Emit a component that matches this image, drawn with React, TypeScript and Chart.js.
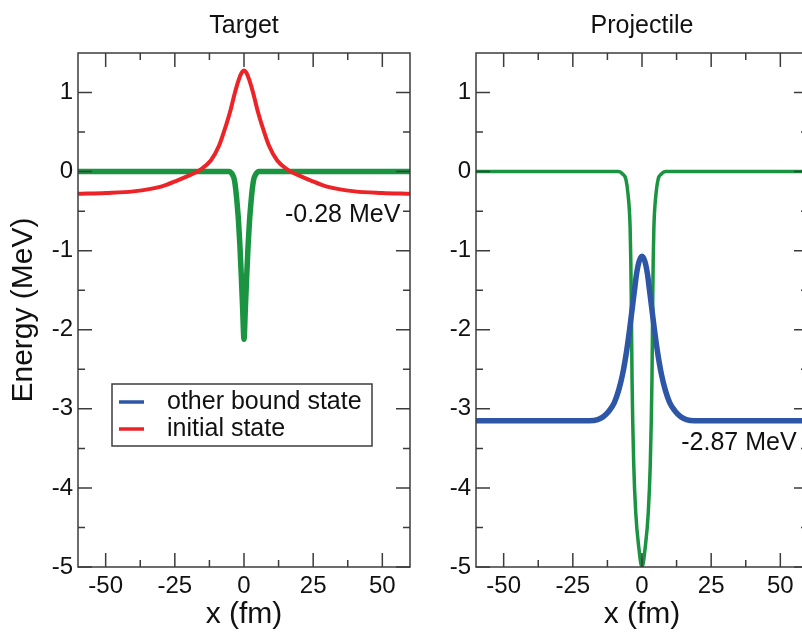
import React, { useEffect, useRef } from "react";
import { Chart, registerables } from "chart.js";

Chart.register(...registerables);

const FONT = '"Liberation Sans", Arial, Helvetica, sans-serif';
const TEXT = "#111111";
const FRAME = "#3c3c3c";
const GREEN = "#1a9440";
const RED = "#ec2327";
const BLUE = "#2d56a6";

// Axis ticks
const X_TICKS = [-50, -25, 0, 25, 50];
const X_MINOR = [-37.5, -12.5, 12.5, 37.5];
const Y_TICKS = [1, 0, -1, -2, -3, -4, -5];
const Y_MINOR = [0.5, -0.5, -1.5, -2.5, -3.5, -4.5];

// Target panel: potential (green)
const X_TGT_POT = [-60, -5.2, -4.5, -4, -3.5, -3, -2.5, -2, -1.5, -1, -0.5, 0, 0.5, 1, 1.5, 2, 2.5, 3, 3.5, 4, 4.5, 5.2, 60];
const Y_TGT_POT = [0, 0, -0.02, -0.05, -0.1, -0.22, -0.4, -0.62, -0.92, -1.3, -1.72, -2.12, -1.72, -1.3, -0.92, -0.62, -0.4, -0.22, -0.1, -0.05, -0.02, 0, 0];

// Target panel: initial state (red)
const X_INIT = [-60, -50, -40, -30, -24, -20, -16, -12, -9, -7, -5, -3.5, -2, -1, 0, 1, 2, 3.5, 5, 7, 9, 12, 16, 20, 24, 30, 40, 50, 60];
const Y_INIT = [-0.28, -0.27, -0.25, -0.19, -0.11, -0.05, 0.02, 0.14, 0.33, 0.53, 0.76, 0.97, 1.15, 1.24, 1.28, 1.24, 1.15, 0.97, 0.76, 0.53, 0.33, 0.14, 0.02, -0.05, -0.11, -0.19, -0.25, -0.27, -0.28];

// Projectile panel: potential (green)
const X_PRJ_POT = [-60, -8.5, -7, -5.8, -5.1, -4.3, -4.05, -3.9, -3.6, -3, -2.25, -1.2, 0, 1.2, 2.25, 3, 3.6, 3.9, 4.05, 4.3, 5.1, 5.8, 7, 8.5, 60];
const Y_PRJ_POT = [0, 0, -0.03, -0.1, -0.27, -0.7, -1.12, -1.54, -2.63, -3.69, -4.32, -4.74, -5, -4.74, -4.32, -3.69, -2.63, -1.54, -1.12, -0.7, -0.27, -0.1, -0.03, 0, 0];

// Projectile panel: other bound state (blue)
const X_BOUND = [-60, -19, -16, -14, -12, -10, -8.4, -7, -5.7, -4.5, -3.5, -2.55, -2, -1, 0, 1, 2, 2.55, 3.5, 4.5, 5.7, 7, 8.4, 10, 12, 14, 16, 19, 60];
const Y_BOUND = [-3.15, -3.15, -3.135, -3.1, -3.03, -2.92, -2.76, -2.56, -2.3, -2.0, -1.72, -1.455, -1.3, -1.13, -1.07, -1.13, -1.3, -1.455, -1.72, -2.0, -2.3, -2.56, -2.76, -2.92, -3.03, -3.1, -3.135, -3.15, -3.15];

// Legend and annotations
const LEGEND_LABELS = ["other bound state", "initial state"];
const LEGEND_COLORS = [BLUE, RED];
const TGT_NOTE = { x: 56.5, y: -0.55, text: "-0.28 MeV", align: "right" };
const PRJ_NOTE = { x: 14.2, y: -3.43, text: "-2.87 MeV", align: "left" };

const pts = (xs: number[], ys: number[]) => xs.map((x, i) => ({ x, y: ys[i] }));

const framePlugin = {
  id: "frame",
  afterDraw(chart: any, _args: any, opts: any) {
    const { ctx, chartArea: a, scales } = chart;
    const xs = scales.x;
    const ys = scales.y;
    const MAJ = 14;
    const MIN = 7;
    ctx.save();
    ctx.strokeStyle = FRAME;
    ctx.lineWidth = 1.5;
    ctx.beginPath();
    const xt = (v: number, len: number) => {
      const p = xs.getPixelForValue(v);
      ctx.moveTo(p, a.bottom);
      ctx.lineTo(p, a.bottom - len);
      ctx.moveTo(p, a.top);
      ctx.lineTo(p, a.top + len);
    };
    const yt = (v: number, len: number) => {
      const p = ys.getPixelForValue(v);
      ctx.moveTo(a.left, p);
      ctx.lineTo(a.left + len, p);
      ctx.moveTo(a.right, p);
      ctx.lineTo(a.right - len, p);
    };
    X_TICKS.forEach((v) => xt(v, MAJ));
    X_MINOR.forEach((v) => xt(v, MIN));
    Y_TICKS.forEach((v) => yt(v, MAJ));
    Y_MINOR.forEach((v) => yt(v, MIN));
    ctx.stroke();
    ctx.strokeRect(a.left, a.top, a.right - a.left, a.bottom - a.top);

    ctx.fillStyle = TEXT;
    ctx.font = `25px ${FONT}`;
    ctx.textBaseline = "middle";
    (opts.notes || []).forEach((n: any) => {
      ctx.textAlign = n.align;
      ctx.fillText(n.text, xs.getPixelForValue(n.x), ys.getPixelForValue(n.y));
    });

    if (opts.legend) {
      const bx = a.left + 34;
      const by = a.top + 331;
      const bw = 260;
      const bh = 62;
      ctx.fillStyle = "#ffffff";
      ctx.fillRect(bx, by, bw, bh);
      ctx.strokeStyle = FRAME;
      ctx.lineWidth = 1.5;
      ctx.strokeRect(bx, by, bw, bh);
      LEGEND_LABELS.forEach((lab, i) => {
        const cy = by + 18 + i * 27;
        ctx.strokeStyle = LEGEND_COLORS[i];
        ctx.lineWidth = 3.5;
        ctx.beginPath();
        ctx.moveTo(bx + 7, cy);
        ctx.lineTo(bx + 32, cy);
        ctx.stroke();
        ctx.fillStyle = TEXT;
        ctx.textAlign = "left";
        ctx.fillText(lab, bx + 55, cy);
      });
    }
    ctx.restore();
  },
};

function makeConfig(p: any): any {
  return {
    type: "line",
    data: { datasets: p.datasets },
    plugins: [framePlugin],
    options: {
      animation: false,
      responsive: false,
      devicePixelRatio: 1,
      layout: { padding: { left: 0, right: p.padRight, top: 0, bottom: 0 } },
      elements: { point: { radius: 0 } },
      plugins: {
        legend: { display: false },
        tooltip: { enabled: false },
        title: {
          display: true,
          text: p.title,
          fullSize: false,
          color: TEXT,
          font: { family: FONT, size: 25, weight: "normal" },
          padding: { top: 11, bottom: 12 },
        },
        frame: { notes: p.notes, legend: p.legend },
      },
      scales: {
        x: {
          type: "linear",
          min: -60,
          max: 60,
          grid: { display: false, drawTicks: false },
          border: { display: false },
          afterBuildTicks: (s: any) => {
            s.ticks = X_TICKS.map((value) => ({ value }));
          },
          afterFit: (s: any) => {
            s.height = 66;
          },
          ticks: {
            autoSkip: false,
            maxRotation: 0,
            padding: 5,
            color: TEXT,
            font: { family: FONT, size: 24 },
            callback: (v: any) => String(v),
          },
          title: {
            display: true,
            text: "x (fm)",
            color: TEXT,
            font: { family: FONT, size: 30 },
            padding: { top: 0, bottom: 0 },
          },
        },
        y: {
          type: "linear",
          min: -5,
          max: 1.5,
          grid: { display: false, drawTicks: false },
          border: { display: false },
          afterBuildTicks: (s: any) => {
            s.ticks = Y_TICKS.map((value) => ({ value }));
          },
          afterFit: (s: any) => {
            s.width = p.yWidth;
          },
          ticks: {
            autoSkip: false,
            padding: 5,
            color: TEXT,
            font: { family: FONT, size: 24 },
            callback: (v: any) => String(v),
          },
          title: {
            display: !!p.yTitle,
            text: p.yTitle || "",
            color: TEXT,
            font: { family: FONT, size: 30 },
            padding: { top: 6, bottom: 0 },
          },
        },
      },
    },
  };
}

const lineDs = (label: string, xs: number[], ys: number[], color: string, width: number) => ({
  label,
  data: pts(xs, ys),
  borderColor: color,
  backgroundColor: color,
  borderWidth: width,
  pointRadius: 0,
  fill: false,
  cubicInterpolationMode: "monotone",
  borderJoinStyle: "round",
  borderCapStyle: "round",
});

function Panel(props: { cfg: any; left: number; width: number }) {
  const ref = useRef<HTMLCanvasElement | null>(null);
  useEffect(() => {
    if (!ref.current) return;
    const chart = new Chart(ref.current, props.cfg);
    return () => chart.destroy();
  }, []);
  return (
    <canvas
      ref={ref}
      width={props.width}
      height={633}
      style={{ position: "absolute", left: props.left, top: 0, width: props.width, height: 633, display: "block" }}
    />
  );
}

export default function App() {
  const targetCfg = makeConfig({
    title: "Target",
    yTitle: "Energy (MeV)",
    yWidth: 78,
    padRight: 30,
    notes: [TGT_NOTE],
    legend: true,
    datasets: [
      lineDs("initial state", X_INIT, Y_INIT, RED, 4),
      lineDs("target potential", X_TGT_POT, Y_TGT_POT, GREEN, 5.5),
    ],
  });
  const projCfg = makeConfig({
    title: "Projectile",
    yTitle: "",
    yWidth: 56,
    padRight: 32,
    notes: [PRJ_NOTE],
    legend: false,
    datasets: [
      lineDs("other bound state", X_BOUND, Y_BOUND, BLUE, 5.5),
      lineDs("projectile potential", X_PRJ_POT, Y_PRJ_POT, GREEN, 3.5),
    ],
  });
  return (
    <div
      style={{
        position: "fixed",
        left: 0,
        top: 0,
        width: 802,
        height: 633,
        overflow: "hidden",
        background: "#ffffff",
      }}
    >
      <Panel cfg={targetCfg} left={0} width={440} />
      <Panel cfg={projCfg} left={420} width={420} />
    </div>
  );
}
